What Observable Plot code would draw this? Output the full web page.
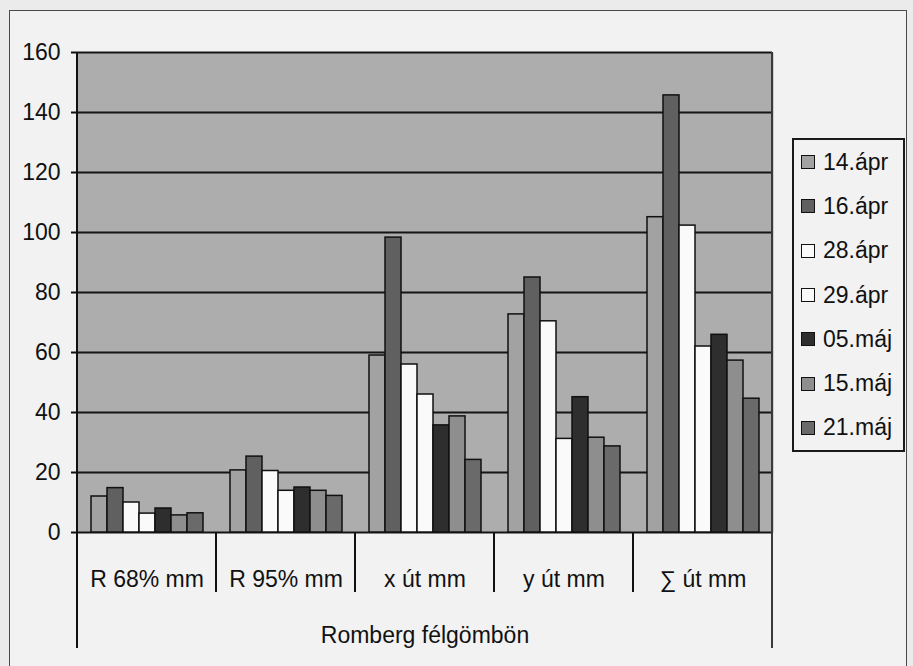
<!DOCTYPE html>
<html>
<head>
<meta charset="utf-8">
<script src="https://cdn.jsdelivr.net/npm/d3@7"></script>
<script src="https://cdn.jsdelivr.net/npm/@observablehq/plot@0.6"></script>
<style>
  body { margin: 0; background: #ebebeb; }
  #wrap { position: relative; width: 913px; height: 666px; overflow: hidden;
          font-family: "Liberation Sans", Arial, sans-serif; color: #111; }
  #sheet { position: absolute; left: 9px; top: 10px; width: 896px; height: 720px;
           border: 1px solid #4a4a4a; background: #f2f2f2; }
  #chart { position: absolute; left: 0; top: 0; }
  #legend { position: absolute; left: 792px; top: 138px; width: 109px; height: 310px;
            border: 2px solid #1a1a1a; background: #f2f2f2; box-sizing: content-box; }
  #legend .row { height: 44.3px; display: flex; align-items: center; padding-left: 7px; }
  #legend .sw { width: 12px; height: 12px; border: 1px solid #111; margin-right: 8px; flex: none; }
  #legend .lab { font-size: 23px; line-height: 1; }
</style>
</head>
<body>
<div id="wrap">
  <div id="sheet"></div>
  <div id="chart"></div>
  <div id="legend"></div>
</div>
<script>
// Categories along the x axis and the seven measurement dates
const categories = ["R 68% mm", "R 95% mm", "x út mm", "y út mm", "∑ út mm"];
const series = ["14.ápr", "16.ápr", "28.ápr", "29.ápr", "05.máj", "15.máj", "21.máj"];

// One value per date, for each category
const r68 = [12, 14.8, 10, 6.3, 8, 5.7, 6.4];
const r95 = [20.7, 25.3, 20.5, 13.9, 15, 13.9, 12.2];
const xUt = [59, 98.3, 56, 46, 35.7, 38.7, 24.2];
const yUt = [72.7, 85, 70.4, 31.2, 45.1, 31.6, 28.7];
const sumUt = [105.1, 145.7, 102.3, 62, 65.9, 57.3, 44.6];

const yTicks = [0, 20, 40, 60, 80, 100, 120, 140, 160];

// Fill for each date's bars
const seriesColors = ["#a2a2a2", "#606060", "#fafafa", "#fafafa", "#2e2e2e", "#8e8e8e", "#6a6a6a"];

const rows = [r68, r95, xUt, yUt, sumUt].flatMap((vals, i) =>
  vals.map((v, j) => ({ category: categories[i], series: series[j], value: v }))
);

const chart = Plot.plot({
  width: 913,
  height: 666,
  marginLeft: 77,
  marginRight: 141,
  marginTop: 52,
  marginBottom: 134,
  style: { background: "transparent", fontFamily: "'Liberation Sans', Arial, sans-serif",
           fontSize: "23px", color: "#111", overflow: "visible" },
  fx: { domain: categories, padding: 0, label: null },
  x: { domain: series, paddingInner: 0, paddingOuter: 0.66, axis: null },
  y: { domain: [0, 160], ticks: yTicks, label: null },
  color: { domain: series, range: seriesColors },
  marks: [
    Plot.frame({ fill: "#adadad", stroke: "none", insetLeft: -1, insetRight: -1 }),
    Plot.gridY(yTicks, { stroke: "#151515", strokeOpacity: 1, strokeWidth: 2 }),
    Plot.barY(rows, { fx: "category", x: "series", y: "value", fill: "series",
                      stroke: "#111", strokeWidth: 1.5 }),
    Plot.axisY(yTicks, { tickSize: 6, tickPadding: 11, strokeWidth: 2, fontSize: 23, label: null }),
    Plot.axisFx({ anchor: "bottom", tickSize: 0, tickPadding: 38, fontSize: 23,
                  label: "Romberg félgömbön", labelAnchor: "center", labelOffset: 110 })
  ]
});

document.getElementById("chart").appendChild(chart);

// Category separators below the baseline, and the plot's vertical edges
const fxScale = chart.scale("fx");
const yScale = chart.scale("y");
const yBase = yScale.apply(0);
const yTop = yScale.apply(160);
const edges = categories.map(c => fxScale.apply(c));
edges.push(fxScale.apply(categories[categories.length - 1]) + fxScale.bandwidth);
const svg = d3.select(chart);
const sep = svg.append("g").attr("stroke-width", 2);
edges.forEach((x, i) => {
  const outer = i === 0 || i === edges.length - 1;
  sep.append("line")
    .attr("x1", x).attr("x2", x)
    .attr("y1", outer ? yTop : yBase)
    .attr("y2", outer ? yBase + 116 : yBase + 60)
    .attr("stroke", i === edges.length - 1 ? "#3a3a3a" : "#111");
});

// Legend built from the colour scale
const colorScale = chart.scale("color");
const legend = d3.select("#legend");
series.forEach(s => {
  const row = legend.append("div").attr("class", "row");
  row.append("div").attr("class", "sw").style("background", colorScale.apply(s));
  row.append("div").attr("class", "lab").text(s);
});
</script>
</body>
</html>
